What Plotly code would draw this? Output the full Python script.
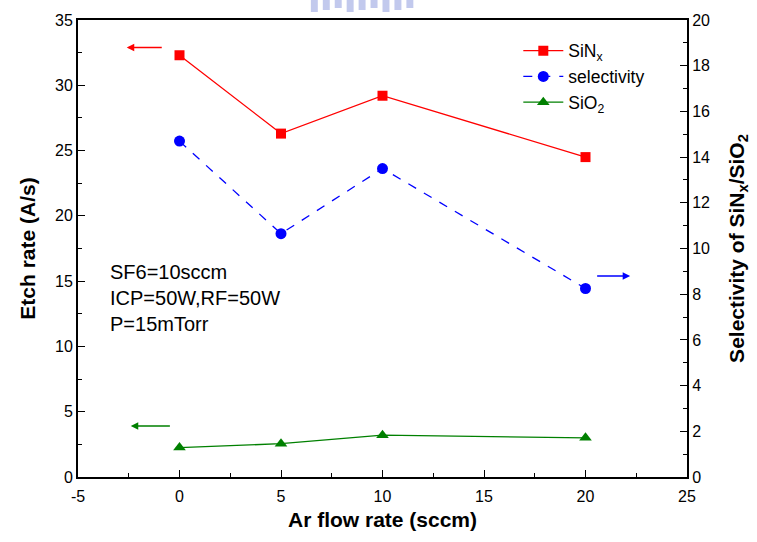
import plotly.graph_objects as go

ar_flow = [0, 5, 10, 20]
sinx_rate = [32.3, 26.3, 29.2, 24.5]
sio2_rate = [2.25, 2.55, 3.2, 3.0]
selectivity = [14.7, 10.65, 13.5, 8.25]

x_ticks = [-5, 0, 5, 10, 15, 20, 25]
x_tick_labels = ["-5", "0", "5", "10", "15", "20", "25"]
y_ticks = [0, 5, 10, 15, 20, 25, 30, 35]
y2_ticks = [0, 2, 4, 6, 8, 10, 12, 14, 16, 18, 20]

FONT = "Liberation Sans, Arial, sans-serif"

fig = go.Figure()
fig.add_trace(go.Scatter(
    x=ar_flow, y=sinx_rate, name="SiN<sub>x</sub>", mode="lines+markers",
    line=dict(color="#ff0000", width=1.3),
    marker=dict(symbol="square", size=10, color="#ff0000")))
fig.add_trace(go.Scatter(
    x=ar_flow, y=selectivity, name="selectivity", mode="lines+markers",
    yaxis="y2",
    line=dict(color="#0000ff", width=1.3, dash="dash"),
    marker=dict(symbol="circle", size=11, color="#0000ff")))
fig.add_trace(go.Scatter(
    x=ar_flow, y=sio2_rate, name="SiO<sub>2</sub>", mode="lines+markers",
    line=dict(color="#008000", width=1.3),
    marker=dict(symbol="triangle-up", size=11, color="#008000")))

axis_common = dict(
    showline=True, linecolor="black", linewidth=2,
    ticks="inside", ticklen=7, tickwidth=1.2, tickcolor="black",
    showgrid=False, zeroline=False,
    tickfont=dict(family=FONT, size=16, color="black"),
)

fig.update_layout(
    width=757, height=542,
    margin=dict(l=78, r=67, t=20, b=65),
    plot_bgcolor="white", paper_bgcolor="white",
    font=dict(family=FONT, color="black"),
    showlegend=True,
    legend=dict(x=0.723, y=0.972, xanchor="left", yanchor="top",
                bgcolor="rgba(0,0,0,0)", font=dict(family=FONT, size=17.5),
                itemwidth=40, tracegroupgap=0),
    xaxis=dict(range=[-5, 25], tickvals=x_ticks, ticktext=x_tick_labels, mirror=True,
               ticklabelstandoff=4,
               minor=dict(dtick=2.5, ticks="inside", ticklen=4, tickcolor="black"),
               title=dict(text="<b>Ar flow rate (sccm)</b>",
                          font=dict(family=FONT, size=21), standoff=8),
               **axis_common),
    yaxis=dict(range=[0, 35], tickvals=y_ticks,
               minor=dict(dtick=2.5, ticks="inside", ticklen=4, tickcolor="black"),
               title=dict(text="<b>Etch rate (A/s)</b>",
                          font=dict(family=FONT, size=21), standoff=14),
               **axis_common),
    yaxis2=dict(range=[0, 20], tickvals=y2_ticks, overlaying="y", side="right",
                minor=dict(dtick=1, ticks="inside", ticklen=4, tickcolor="black"),
                title=dict(text="<b>Selectivity of SiN<sub>x</sub>/SiO<sub>2</sub></b>",
                           font=dict(family=FONT, size=21), standoff=20),
                **axis_common),
)

# direction arrows
arrows = [
    dict(x=-2.6, y=32.9, ax=-0.8, ay=32.9, color="#ff0000", yref="y", ayref="y"),
    dict(x=22.2, y=8.8, ax=20.5, ay=8.8, color="#0000ff", yref="y2", ayref="y2"),
    dict(x=-2.4, y=3.9, ax=-0.4, ay=3.9, color="#008000", yref="y", ayref="y"),
]
for a in arrows:
    fig.add_annotation(x=a["x"], y=a["y"], ax=a["ax"], ay=a["ay"],
                       xref="x", yref=a["yref"], axref="x", ayref=a["ayref"],
                       showarrow=True, arrowhead=2, arrowsize=1, arrowwidth=1.5,
                       arrowcolor=a["color"], text="")

fig.add_annotation(x=-3.5, y=13.7, xref="x", yref="y", xanchor="left", yanchor="middle",
                   text="SF6=10sccm<br>ICP=50W,RF=50W<br>P=15mTorr",
                   align="left", showarrow=False,
                   font=dict(family=FONT, size=20, color="black"))

# faint scan watermark fragment at top
for i, x0 in enumerate(range(312, 420, 12)):
    fig.add_shape(type="rect", xref="paper", yref="paper",
                  x0=(x0 - 78) / 612, x1=(x0 + 7 - 78) / 612,
                  y0=477 / 457, y1=(477 - 12 + (i % 3) * 2) / 457,
                  fillcolor="rgba(120,135,215,0.45)", line=dict(width=0), layer="above")

fig.write_html("out.html")
